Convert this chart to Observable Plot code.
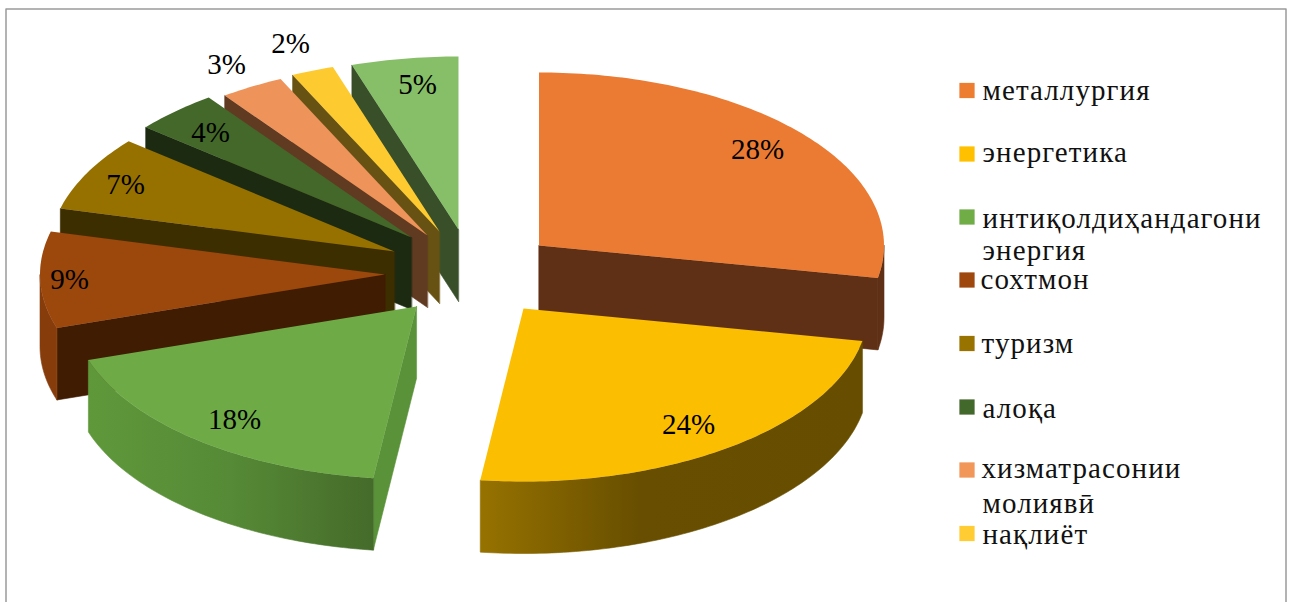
<!DOCTYPE html>
<html>
<head>
<meta charset="utf-8">
<script src="https://cdn.jsdelivr.net/npm/d3@7"></script>
<script src="https://cdn.jsdelivr.net/npm/@observablehq/plot@0.6"></script>
<style>html,body{margin:0;padding:0;background:#fff}svg{display:block}.legend-text text{letter-spacing:1.1px}</style>
</head>
<body>
<div id="chart"></div>
<script>
// Data
const sectors = ["металлургия","энергетика","интиқолдиҳандагони энергия","сохтмон","туризм","алоқа","хизматрасонии молиявӣ","нақлиёт","other"];
const shares = [28,24,18,9,7,4,3,2,5];

// Styles
const topColors = ["#eb7b32","#fbbe00","#6eab46","#9c470c","#967100","#436829","#ee935a","#fdcb30","#87bf68"];
const wallColors = ["#5f3015","#665000","#5a9239","#3f1c02","#3d2e00","#1b2a10","#613a22","#675214","#384f2a"];
const rimFills = ["#5f3015","url(#rimY)","url(#rimG)","#873d0b","#3d2e00","#1b2a10","#613a22","#675214","#384f2a"];

// Layout of the exploded pie
const rx = 345, ry = 173, depth = 72;
const apexX = [538.5,523,416,384.5,394,411,427,439,458];
const apexY = [245,308,306,274,251,237,235,231,229];
const drawOrder = [8,7,6,5,4,3,0,1,2];

const total = d3.sum(shares);
const ends = Array.from(d3.cumsum(shares), v => v / total * 360);
const starts = ends.map((e,i) => e - shares[i] / total * 360);

const onRim = (i, deg, dz = 0) => {
  const a = deg * Math.PI / 180;
  return {x: apexX[i] + rx * Math.sin(a), y: apexY[i] - ry * Math.cos(a) + dz};
};
const arc = (i, a0, a1) => {
  const n = Math.max(2, Math.ceil(Math.abs(a1 - a0)));
  return d3.range(n + 1).map(k => a0 + (a1 - a0) * k / n);
};
const poly = (pts, fill, stroke = "none") => Plot.line(pts, {x:"x", y:"y", fill, stroke, strokeWidth:0.6, curve:"linear-closed"});

const sliceMarks = drawOrder.flatMap(i => {
  const s = starts[i], e = ends[i], marks = [];
  const apex = {x: apexX[i], y: apexY[i]};
  const apexLow = {x: apexX[i], y: apexY[i] + depth};
  const cut = a => poly([apex, onRim(i,a), onRim(i,a,depth), apexLow], wallColors[i], wallColors[i]);
  if (s > 180) marks.push(cut(s));
  if (e < 180) marks.push(cut(e));
  const r0 = Math.max(s, 90), r1 = Math.min(e, 270);
  if (r1 > r0) {
    const as = arc(i, r0, r1);
    marks.push(poly([...as.map(a => onRim(i,a)), ...as.reverse().map(a => onRim(i,a,depth))], rimFills[i], rimFills[i]));
  }
  marks.push(poly([apex, ...arc(i, s, e).map(a => onRim(i,a))], topColors[i]));
  return marks;
});

// Percent labels
const labelX = [757,688,234,69,125,210,226,290,417];
const labelY = [149,424,419,279,184,132,64,43,84];
const pctLabels = shares.map((v,i) => ({x: labelX[i], y: labelY[i], t: v + "%"}));

// Legend
const legendSwatchColors = ["#ed7d31","#ffc000","#70ad47","#9e480e","#997300","#43682b","#f1975a","#ffcd33"];
const legendSwatchY = [90,153.5,216.5,279.5,343,406.5,469.5,533];
const legendLines = ["металлургия","энергетика","интиқолдиҳандагони","энергия","сохтмон","туризм","алоқа","хизматрасонии","молиявӣ","нақлиёт"];
const legendBaseline = [99,161,227,259,288,352,417,477,512,543];
const legendTextX = [982,982,982,982,980,981,982,981,982,982];

const swatches = legendSwatchColors.map((c,i) => ({c, y: legendSwatchY[i]}));
const lines = legendLines.map((t,i) => ({t, x: legendTextX[i], y: legendBaseline[i]}));
const legendFont = 29, pctFont = 29;

const defs = () => {
  const svg = d3.create("svg:defs");
  const grad = (id, stops) => {
    const g = svg.append("linearGradient").attr("id", id);
    stops.forEach(([o,c]) => g.append("stop").attr("offset", o).attr("stop-color", c));
  };
  grad("rimY", [[0,"#967200"],[0.42,"#674e00"],[1,"#664d00"]]);
  grad("rimG", [[0,"#5f983b"],[0.5,"#568a36"],[1,"#456b2a"]]);
  return svg.node();
};

const frame = [{x:5.5,y:602},{x:5.5,y:8.5},{x:1285.5,y:8.5},{x:1285.5,y:602}];

const chart = Plot.plot({
  width: 1291, height: 602,
  margin: 0,
  x: {domain:[0,1291], range:[0,1291], axis:null},
  y: {domain:[0,602], range:[0,602], axis:null},
  style: {background:"#fff", fontFamily:"'Liberation Serif', serif"},
  marks: [
    defs,
    Plot.line(frame, {x:"x", y:"y", stroke:"#9a9a9a", strokeWidth:1.5}),
    ...sliceMarks,
    Plot.text(pctLabels, {x:"x", y:"y", text:"t", fontSize:pctFont, fill:"#000", fontFamily:"Liberation Serif"}),
    Plot.dot(swatches, {x:()=>966.5, y:"y", symbol:"square", r:8.6, fill:"c", stroke:"none"}),
    Plot.text(lines, {x:"x", y:d=>d.y-0.32*legendFont, text:"t", textAnchor:"start", fontSize:legendFont, fill:"#111", fontFamily:"Liberation Serif", className:"legend-text"})
  ]
});
document.getElementById("chart").appendChild(chart);
</script>
</body>
</html>
